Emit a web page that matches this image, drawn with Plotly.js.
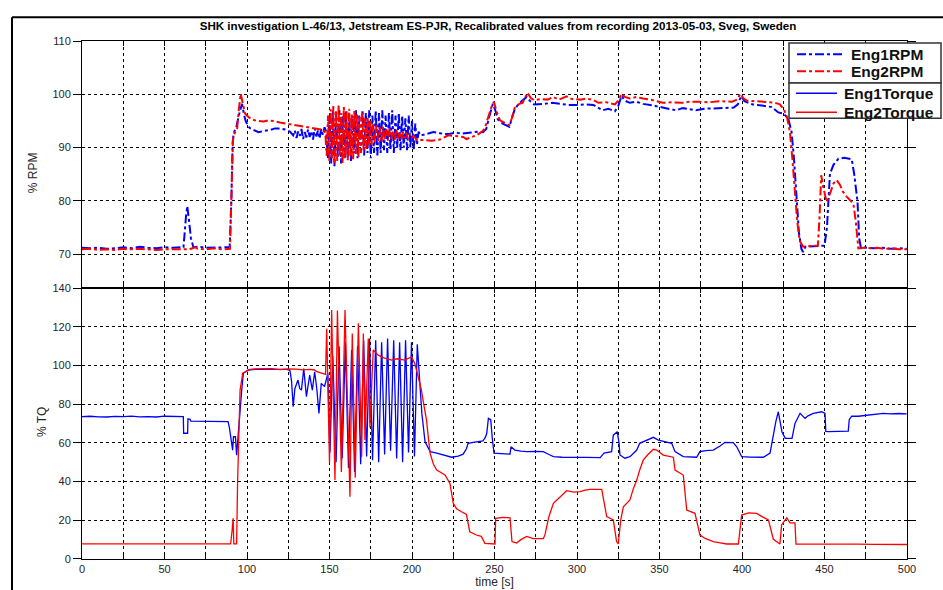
<!DOCTYPE html>
<html>
<head>
<meta charset="utf-8">
<script src="https://cdn.plot.ly/plotly-3.0.1.min.js"></script>
<style>
  html, body { margin: 0; padding: 0; background: #fff; }
  #chart { width: 943px; height: 590px; }
</style>
</head>
<body>
<div id="chart"></div>
<script>
// Engine data, [time s, value] pairs
const eng1Rpm = [
  [0,71.2],[5,71.1],[10,71.2],[15,71.0],[20,71.1],[25,71.3],[30,71.1],[35,71.4],[40,71.2],[45,71.1],[50,71.3],[55,71.2],[60,71.3],
  [61.5,71.3],[63,77],[63.8,79],[64.8,76.5],[66,73],[67.5,71.3],[70,71.4],[75,71.2],[80,71.2],[85,71.3],[89.5,71.3],
  [90.5,80],[91.3,91],[92,92.8],[93.5,93.8],[95,96],[97,98.2],[98,96.5],[99,95.2],[100.5,94],[102,93.6],[104,93.3],[107,92.9],
  [110,93.1],[114,93.3],[117,93.6],[120,93.6],[123,93.4],[126,93.0],[128,92.3],[129,93.2],[130,91.8],[131,93.0],[132,92.2],
  [133,93.5],[134,91.6],[135,92.9],[136,91.9],[137,93.4],[138,92.0],[139,93.1],[140,91.5],[141,93.6],[142,92.1],[143,93.2],
  [144,91.7],[145,93.5],[146,92.4],[147,93.8],
  [148,93],[149,88],[150,96],[151,87],[152,97],[153,86.5],[154,96.5],[155,88],[156,97],[157,87],[158,96],[159,88],[160,97],
  [161,88],[162,95.5],[163,87.5],[164,96],[165,89],[166,97],[167,88],[168,96],[169,89],[170,97],[171,88.5],[172,96.5],
  [173,89],[174,97],[175,88],[176,96],[177,89],[178,97],[179,88.5],[180,96.5],[181,89],[182,97],[183,89.5],[184,96],
  [185,89],[186,96.5],[187,89.5],[188,97],[189,89],[190,96],[191,90],[192,96.5],[193,89.5],[194,96],[195,90],[196,95.5],
  [197,89.5],[198,96],[199,90],[200,95],[201,89.5],[202,94.5],[203,90.5],[204,93],[205,92.3],
  [207,92.4],[210,92.7],[213,92.9],[217,92.7],[220,92.5],[223,92.6],[227,92.8],[230,92.6],[233,92.7],[237,92.9],[240,93.0],
  [243,92.9],[245,93.5],[247,96],[249,98.2],[250.5,97],[252,95.3],[255,94.5],[259,93.9],[260.5,95.5],[262.4,97.3],[265,98.3],
  [269.5,99.5],[272,98.6],[274,98.1],[280,98.2],[285,98.4],[290,98.2],[295,98.0],[300,98.0],[305,98.1],[310,98.0],[313,97.5],
  [315.5,97.0],[319,97.3],[323,96.8],[325,97.8],[327,99.7],[329,98.8],[332,98.4],[336,98.6],[340,98.2],[346,97.9],[352,97.5],
  [356,97.3],[360,97.0],[364,97.4],[368,97.2],[372,97.0],[378,97.3],[384,97.4],[390,97.4],[395,97.5],[397.5,98.1],[399.5,99.7],
  [401.5,98.7],[406.5,98.1],[412,97.9],[418,97.6],[422,96.6],[425,96.4],[428,95.5],[430,93],[431.5,88],[433,80],[434.5,74],
  [436,71.0],[437,70.4],[438.5,71.4],[442,71.5],[446,71.5],[450,71.6],[451.5,75],[453.3,85.1],[455.5,86.8],[458.4,87.9],
  [462,88.1],[466.5,87.8],[468,85],[470,79.9],[471,73],[472,71.3],[476,71.2],[480,71.1],[485,71.2],[490,71.0],[495,71.1],[500,71.0]
];

const eng2Rpm = [
  [0,70.9],[5,71.0],[10,70.8],[15,70.9],[20,70.8],[25,71.0],[30,70.9],[35,71.0],[40,70.9],[45,70.8],[50,70.9],[55,70.9],[60,71.0],
  [65,70.9],[68.5,71.3],[70,71.0],[75,70.9],[80,71.1],[85,70.9],[89.7,71.0],[90.5,80],[91.5,91.5],[92.5,92.7],[94,93.5],[95,97],
  [96.2,100.1],[97.5,98.2],[98.8,96.4],[101,95.7],[103,95.3],[106,95.0],[110,94.9],[113,95.1],[116,95.0],[120,94.7],[124,94.5],
  [128,94.3],[132,94.1],[136,93.9],[140,93.6],[144,93.4],[146.5,93.3],
  [147.5,92.5],[148.3,88.5],[149.1,96],[149.9,87.5],[150.7,97.2],[151.5,88],[152.3,97.8],[153.1,86.8],[153.9,97],[154.7,87.5],
  [155.5,98],[156.3,88.5],[157.1,96.5],[157.9,87],[158.7,97.6],[159.5,88],[160.3,96.8],[161.1,87.6],[161.9,97.3],[162.7,88.4],
  [163.5,96.2],[164.3,87.8],[165.1,97],[165.9,88.8],[166.7,96.4],[167.5,88.2],[168.3,95.8],[169.1,89],[169.9,96.5],[170.7,89.3],
  [171.5,95.5],[172.3,89.8],[173.1,95.8],[173.9,90.2],[174.7,95],[175.5,90.5],[176.5,94.4],[177.5,91],[178.5,94.2],[179.5,91.2],
  [180.5,93.8],[181.5,91],[182.5,93.9],[183.5,91.5],[184.5,93.5],[185.5,91.3],[186.5,93.6],[187.5,91.6],[188.5,93.2],[189.5,91.4],
  [190.5,93.3],[191.5,91.7],[192.5,93],[193.5,91.5],[194.5,92.9],[195.5,91.8],[196.5,92.8],[197.5,91.6],[198.5,92.6],[199.5,91.8],
  [201,92.2],[203,91.4],[207,91.4],[212,91.3],[217,91.5],[220,92.0],[222,92.3],[226,92.2],[231,92.0],[233,91.6],[236,92.0],
  [239,92.3],[242,92.9],[244,93.5],[246,95.5],[248,97.5],[249.7,98.6],[251,97],[253.3,95.1],[256,94.6],[259,94.2],[260.5,95.5],
  [262.4,97.6],[265,98.2],[267,98.4],[270,100.3],[272,99.3],[274,98.9],[278,99.1],[282,99.0],[285.7,99.5],[289,99.0],[293.7,99.6],
  [297,99.1],[302,99.0],[306,99.2],[310,98.9],[313,98.4],[318,98.5],[323,98.1],[325,98.8],[327,100.1],[329,99.5],[332,99.2],
  [336,99.5],[340,99.2],[346,98.9],[352,98.4],[358,98.5],[364,98.4],[368,98.6],[374,98.6],[380,98.5],[386,98.7],[390,98.6],
  [394,98.6],[397,99.0],[399,100.1],[401,99.2],[403,98.8],[409,98.7],[415,98.6],[420,98.4],[423,98.1],[425,97.3],[427,96.1],
  [429,93],[430.5,88],[432,82],[433.5,76],[435,72.5],[437,71.4],[440,71.5],[443,71.5],[446,71.6],[447,77],[448,84.8],[449.3,82.5],
  [451.3,79.8],[453.5,81.5],[455.5,83.3],[457.4,83.9],[459.4,83.0],[461,81.8],[463.4,80.8],[467.5,79.5],[469,76],[470.5,71.1],
  [474,71.2],[478,71.1],[482,71.2],[486,71.0],[490,71.1],[495,70.9],[500,70.9]
];

const eng1Torque = [
  [0,73.6],[5,73.8],[10,73.5],[15,73.4],[20,73.7],[25,73.6],[30,73.9],[35,73.5],[40,73.6],[45,73.4],[50,73.8],[55,73.6],[60,73.7],
  [61.4,73.6],[61.6,65.0],[64,65.0],[64.2,72.5],[65.5,72.2],[66,71.3],[70,71.3],[75,71.2],[80,71.1],[85,71.2],[88.5,71.0],
  [89.3,68],[90,63.2],[90.7,58.6],[91.3,56.3],[91.8,63.2],[93,63.2],[93.7,53.7],[94.5,63.2],[95.3,70],[96,80],[96.8,87.3],
  [97.8,96],[100.8,97.7],[105,98.0],[110,98.2],[115,98.0],[120,98.1],[124,98.0],[126,97.5],[127,92],[128,78.7],[129,88],
  [130.9,92.5],[132,88],[133,87.3],[134.4,98.5],[136,83.9],[137,90],[138,95.1],[139.6,87.3],[141,96.8],[142.3,88],[143.6,75.3],
  [145,90.8],[147,89.1],[149,96],
  [150.3,55],[152,105],[154,50],[155.8,110],[157.7,52],[159.6,112],[161.5,47],[163.4,108],[165.2,45],[167,110],[168.9,49],
  [170.7,113],[172.5,53],[174.3,114],[176.1,51],[178,113],[179.8,50],[181.6,112],[183.4,54],[185.2,114],[187,56],[188.9,113],
  [190.7,52],[192.5,112],[194.3,50],[196.1,113],[197.9,55],[199.7,112],[201.5,53],[203.2,111],[204.7,94],[206,75],
  [207.9,60.6],[209.5,58],[211,55.5],[215,54.7],[220,53.5],[224,52.6],[228,53.2],[231,54.2],[233,57],[234,59.8],[238,60.4],
  [243,61],[244.5,63],[245.3,65],[246.3,72.7],[247.7,72],[248.7,62],[249.7,54.7],[254,54.5],[259.4,54.2],[260,58],[262.4,56.3],
  [266,55.8],[269.5,55.5],[275,55.6],[279.6,55.5],[283,54],[285.7,52.9],[291,52.6],[297.8,52.4],[305,52.5],[314,52.4],
  [316.4,54.7],[321,55.5],[322,64],[324.4,65.8],[325.5,59.8],[326,53.8],[329,52.1],[332.1,52.9],[336.2,56.3],[338,59.8],
  [342.2,61.5],[346.3,62.9],[349.3,61.5],[354.3,60.6],[357.4,59.8],[359.4,55.5],[364.4,52.9],[372.5,52.6],[374.5,55.5],
  [378,56],[382.6,56.3],[386.7,58.4],[389.7,60.3],[394.7,60.2],[396.8,58],[398.8,54.7],[399.8,52.9],[405,52.7],[413,52.6],
  [417,54.7],[419,65],[420.5,71],[422,76.1],[424.2,65.8],[426.2,62.4],[430.3,62.4],[432.1,70.1],[435.2,75.3],[438.2,72.7],
  [440,74],[443.2,75.3],[448.3,76.1],[450.3,75.3],[450.8,66],[452.3,65.8],[458,65.9],[464.4,66.1],[465,72],[466.5,73.9],
  [470.5,73.8],[475.5,74.3],[480,74.8],[485.6,75.3],[490,75.0],[495,75.2],[499.8,75.0]
];

const eng2Torque = [
  [0,7.8],[10,7.8],[20,7.8],[30,7.8],[40,7.8],[50,7.8],[60,7.8],[70,7.8],[80,7.8],[90.1,7.8],[91,15],[91.6,21],[92,7.8],
  [93.7,7.8],[94.3,40],[95,70],[95.8,87.3],[97.4,96],[101.8,98],[105,98.3],[110,98.2],[115,98.4],[120,97.9],[125,98.3],
  [130,98.1],[134,97.8],[138,98.0],[141,97.7],[142,97.0],[145.7,96],[147.6,95.5],
  [148.3,119],[150,49.5],[151.3,128.7],[153.3,40.8],[154.8,128.5],[157.2,45],[159.4,128.7],[162.4,32.2],[163.8,116.6],
  [165.6,42],[167.5,121.8],[169.5,52.9],[170.5,116.6],[171.5,61.5],[173.5,114],[174.5,68],[176.5,108],[179.5,105.4],
  [183,104],[187.6,102.8],[191,103.5],[195.6,102.8],[199.7,104.5],[201.7,101.1],[203.5,95],[205.7,87.3],[207.5,78],
  [208.8,71.8],[210,62],[211,54.6],[213,49],[215,46],[220,43.4],[223,39.1],[225,28.8],[227,26],[230,24.4],[233,23],
  [235,14.1],[239,12.4],[242,11.7],[244.2,8.1],[250.3,7.75],[250.7,21],[255,21.5],[259.4,21.3],[260.6,9],[263.4,8.3],
  [266,10],[269.5,11.7],[273.5,10.5],[279.6,10.5],[280.6,12.6],[283,22],[285.7,28.8],[289.7,32.2],[293.7,35.3],[298,34.6],
  [301.8,34.8],[305,35.6],[307.9,36],[315,36],[316,30.5],[318,21.9],[322,20.2],[324,9],[325,7.75],[326.5,20.2],[328.1,27],
  [332.1,30.5],[334,36],[336.2,40.8],[338,46],[340.2,51.2],[343,54],[346.3,56.7],[348.3,56.3],[352.3,53.7],[358.4,52.6],
  [359.4,46],[364.4,43.4],[366.5,25.3],[371.5,23.6],[374.5,12.4],[378,10.5],[382.6,9],[386,8.5],[390.7,7.75],[397.8,7.75],
  [399.8,22.7],[404,23.8],[408.9,23.6],[413,21.5],[416,20.2],[419,10.2],[423,7.75],[424,17.6],[427.1,21.3],[429.1,18.7],
  [432.1,18.7],[432.7,7.75],[440,7.8],[450,7.8],[460,7.7],[470,7.7],[480,7.6],[490,7.6],[500,7.5]
];

const timeTicks = [0,25,50,75,100,125,150,175,200,225,250,275,300,325,350,375,400,425,450,475,500];
const timeLabels = timeTicks.map(t => (t % 50 === 0 ? String(t) : ''));
const rpmTicks = [70,80,90,100,110];
const tqTicks = [0,20,40,60,80,100,120,140];
const rpmNames = ['Eng1RPM', 'Eng2RPM'];
const torqueNames = ['Eng1Torque', 'Eng2Torque'];

const BLUE = '#0000ff';
const RED = '#ff0000';

function xs(d) { return d.map(p => p[0]); }
function ys(d) { return d.map(p => p[1]); }

const traces = [
  { x: xs(eng1Rpm), y: ys(eng1Rpm), name: rpmNames[0], xaxis: 'x2', yaxis: 'y2', mode: 'lines',
    line: { color: BLUE, width: 2, dash: 'dashdot' } },
  { x: xs(eng2Rpm), y: ys(eng2Rpm), name: rpmNames[1], xaxis: 'x2', yaxis: 'y2', mode: 'lines',
    line: { color: RED, width: 2, dash: 'dashdot' } },
  { x: xs(eng1Torque), y: ys(eng1Torque), name: torqueNames[0], xaxis: 'x', yaxis: 'y', mode: 'lines',
    line: { color: BLUE, width: 1.3 } },
  { x: xs(eng2Torque), y: ys(eng2Torque), name: torqueNames[1], xaxis: 'x', yaxis: 'y', mode: 'lines',
    line: { color: RED, width: 1.3 } }
];

const FONT = 'Liberation Sans, Arial, Helvetica, sans-serif';
const tickFont = { family: FONT, size: 11, color: '#262626' };

const axisCommon = {
  showline: true, linecolor: '#000', linewidth: 1, mirror: 'ticks',
  showgrid: true, gridcolor: '#000', gridwidth: 1, griddash: 'dot',
  zeroline: false, tickfont: tickFont, tickcolor: '#000'
};

// plot area in pixels: left 82, right 907, top 40.7, bottom 559
const PL = 82, PW = 825, PT = 40.7, PH = 518.3;
const px = v => (v - PL) / PW;          // pixel x -> paper x
const py = v => 1 - (v - PT) / PH;      // pixel y -> paper y
const SPLIT = py(288);

// two stacked legend boxes drawn in the top-right corner
const legendFont = { family: FONT, size: 15.5, color: '#111', weight: 'bold' };
const legendShapes = [
  { type: 'rect', xref: 'paper', yref: 'paper', x0: px(789), x1: px(941), y0: py(42.7), y1: py(82.7),
    fillcolor: '#fff', line: { color: '#333', width: 1.5 } },
  { type: 'rect', xref: 'paper', yref: 'paper', x0: px(789), x1: px(941), y0: py(82.7), y1: py(118),
    fillcolor: '#fff', line: { color: '#333', width: 1.5 } },
  { type: 'line', xref: 'paper', yref: 'paper', x0: px(797), x1: px(842), y0: py(54), y1: py(54),
    line: { color: BLUE, width: 2, dash: 'dashdot' } },
  { type: 'line', xref: 'paper', yref: 'paper', x0: px(797), x1: px(842), y0: py(71), y1: py(71),
    line: { color: RED, width: 2, dash: 'dashdot' } },
  { type: 'line', xref: 'paper', yref: 'paper', x0: px(796), x1: px(837), y0: py(93), y1: py(93),
    line: { color: BLUE, width: 1.3 } },
  { type: 'line', xref: 'paper', yref: 'paper', x0: px(796), x1: px(837), y0: py(112), y1: py(112),
    line: { color: RED, width: 1.3 } }
];
const legendLabels = [
  [rpmNames[0], 849, 54], [rpmNames[1], 849, 71], [torqueNames[0], 842, 93], [torqueNames[1], 842, 112]
].map(([t, x, y]) => ({
  text: t, xref: 'paper', yref: 'paper', x: px(x), y: py(y), xanchor: 'left', yanchor: 'middle',
  showarrow: false, font: legendFont
}));

const layout = {
  width: 943, height: 590,
  margin: { l: PL, r: 943 - PL - PW, t: PT, b: 590 - PT - PH },
  paper_bgcolor: '#fff', plot_bgcolor: '#fff',
  font: { family: FONT, color: '#262626' },
  showlegend: false,
  title: {
    text: 'SHK investigation L-46/13, Jetstream ES-PJR, Recalibrated values from recording 2013-05-03, Sveg, Sweden',
    font: { family: 'Liberation Sans, Arial, sans-serif', size: 11.6, color: '#000', weight: 'bold' },
    x: px(498), xanchor: 'center', xref: 'paper', y: 1 - 26 / 590, yanchor: 'middle', yref: 'container'
  },
  xaxis: Object.assign({}, axisCommon, {
    domain: [0, 1], range: [0, 500], anchor: 'y',
    tickmode: 'array', tickvals: timeTicks, ticktext: timeLabels,
    ticks: 'inside', ticklen: 5,
    title: { text: 'time [s]', font: { family: FONT, size: 12, color: '#262626' }, standoff: 2 }
  }),
  yaxis: Object.assign({}, axisCommon, {
    domain: [0, SPLIT], range: [0, 140], anchor: 'x',
    tickmode: 'array', tickvals: tqTicks, ticks: 'outside', ticklen: 8
  }),
  xaxis2: Object.assign({}, axisCommon, {
    domain: [0, 1], range: [0, 500], anchor: 'y2', matches: 'x',
    tickmode: 'array', tickvals: timeTicks, showticklabels: false,
    ticks: 'inside', ticklen: 5
  }),
  yaxis2: Object.assign({}, axisCommon, {
    domain: [SPLIT, 1], range: [63.62, 110], anchor: 'x2',
    tickmode: 'array', tickvals: rpmTicks, ticks: 'outside', ticklen: 8
  }),
  annotations: [
    { text: '% RPM', xref: 'paper', yref: 'paper', x: px(33), y: py(173),
      xanchor: 'center', yanchor: 'middle', textangle: -90, showarrow: false,
      font: { family: FONT, size: 12, color: '#262626' } },
    { text: '% TQ', xref: 'paper', yref: 'paper', x: px(42), y: py(422),
      xanchor: 'center', yanchor: 'middle', textangle: -90, showarrow: false,
      font: { family: FONT, size: 12, color: '#262626' } }
  ].concat(legendLabels),
  shapes: [
    // figure frame, left and top edges
    { type: 'line', xref: 'paper', yref: 'paper', x0: px(12), x1: px(943), y0: py(17), y1: py(17),
      line: { color: '#000', width: 2 } },
    { type: 'line', xref: 'paper', yref: 'paper', x0: px(12), x1: px(12), y0: py(17), y1: py(590),
      line: { color: '#000', width: 2 } }
  ].concat(legendShapes)
};

Plotly.newPlot('chart', traces, layout, { displayModeBar: false, staticPlot: true });
</script>
</body>
</html>
